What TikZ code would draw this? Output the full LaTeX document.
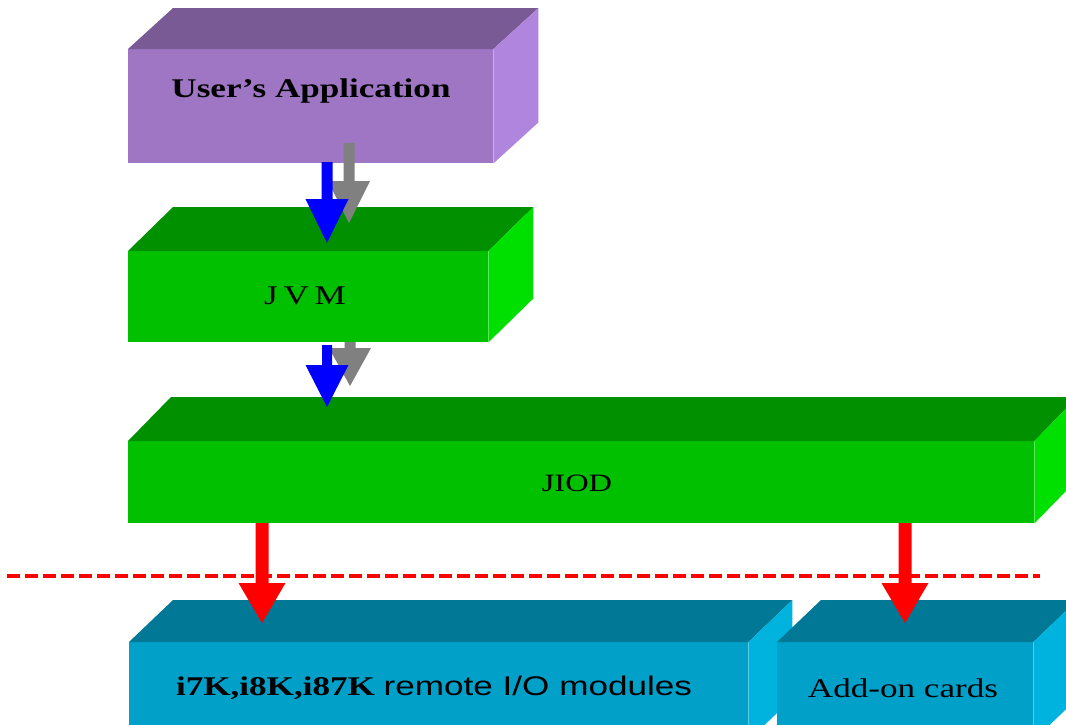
\documentclass[tikz,border=0pt]{standalone}
\usepackage{fontspec}
\setmainfont{Liberation Serif}
\newfontfamily\arialf{Liberation Sans}
\usepackage{graphicx}
\usetikzlibrary{calc}
\definecolor{purF}{RGB}{158,118,196}
\definecolor{purT}{RGB}{122,90,148}
\definecolor{purS}{RGB}{176,133,222}
\definecolor{grnF}{RGB}{0,192,0}
\definecolor{grnT}{RGB}{0,144,0}
\definecolor{grnS}{RGB}{0,224,0}
\definecolor{bluF}{RGB}{0,160,200}
\definecolor{bluT}{RGB}{0,120,150}
\definecolor{bluS}{RGB}{0,178,222}
\definecolor{arrBlue}{RGB}{0,0,255}
\definecolor{arrGray}{RGB}{128,128,128}
\definecolor{arrRed}{RGB}{255,0,0}
\tikzset{
  front/.style={draw=none, inner sep=0pt, anchor=north west},
  lbl/.style={inner sep=0pt, text=black},
}
% #1 name, #2 x1, #3 y1, #4 x2, #5 y2, #6 colour prefix, #7 dx, #8 dy
\newcommand\blockbox[8]{%
  \node[front, fill=#6F, minimum width={(#4-#2)*1pt}, minimum height={(#5-#3)*1pt}] (#1) at (#2,#3) {};
  \fill[#6T] (#1.north west) -- (#1.north east) -- ++(#7,#8) -- ($(#1.north west)+(#7,#8)$) -- cycle;
  \fill[#6S] (#1.north east) -- ++(#7,#8) -- ($(#1.south east)+(#7,#8)$) -- (#1.south east) -- cycle;
}
% #1 colour, #2 cx, #3 ytop, #4 yhead, #5 ytip, #6 shaft half width, #7 head half width
\newcommand\dnarrow[7]{%
  \fill[#1] ({#2-#6},#3) -- ({#2+#6},#3) -- ({#2+#6},#4) -- ({#2+#7},#4) -- (#2,#5) -- ({#2-#7},#4) -- ({#2-#6},#4) -- cycle;
}
\newcommand\txt[1]{\fontsize{27}{30}\selectfont\scalebox{1.3}[1]{#1}}
\begin{document}
\begin{tikzpicture}[x=1pt,y=-1pt]
\useasboundingbox (0,0) rectangle (1066,724);
\clip (0,0) rectangle (1066,724);
\fill[white] (0,0) rectangle (1066,724);
% blocks
\blockbox{app}{128}{49}{493}{163}{pur}{45}{-41}
\blockbox{jvm}{128}{251}{488}{342}{grn}{45}{-44}
\blockbox{jiod}{128}{441}{1034}{523}{grn}{43}{-44}
\blockbox{rio}{129}{642}{748}{740}{blu}{44}{-42}
\blockbox{addon}{777}{642}{1033}{740}{blu}{44}{-42}
% labels
\node[lbl] (tapp) at (311,91) {\txt{\bfseries User's Application}};
\node[lbl] (tjvm) at (305,296) {\txt{J\,V\,M}};
\node[lbl] (tjiod) at (577,483) {\fontsize{25}{28}\selectfont\scalebox{1.3}[1]{JIOD}};
\node[lbl] (trio) at (434,688) {\txt{{\bfseries i7K,i8K,i87K} {\arialf remote I/O modules}}};
\node[lbl] (tadd) at (903,688) {\txt{Add-on cards}};
% dashed boundary
\draw[arrRed, line width=4pt, dash pattern=on 13pt off 5pt] (7,576) -- (1040,576);
% arrows
\dnarrow{arrGray}{349}{143}{181}{223}{5.5}{21}
\dnarrow{arrBlue}{327}{162}{199}{243}{5.5}{21.5}
\dnarrow{arrGray}{350}{342}{348}{386}{5.5}{21}
\dnarrow{arrBlue}{327}{345}{365}{407}{5}{21.5}
\dnarrow{arrRed}{262}{523}{583}{623}{6.5}{23.5}
\dnarrow{arrRed}{905}{523}{583}{623}{6.5}{23.5}
\end{tikzpicture}
\end{document}
